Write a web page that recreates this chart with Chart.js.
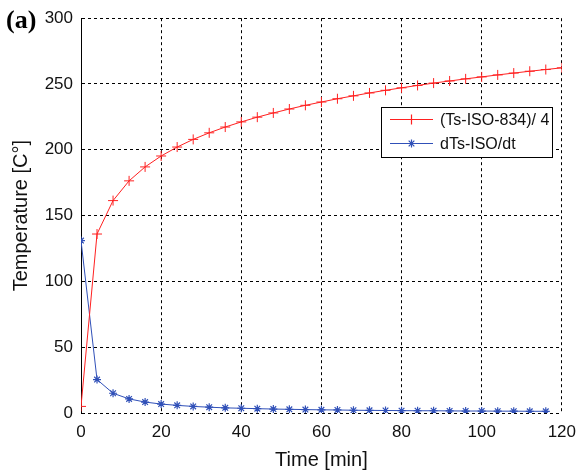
<!DOCTYPE html>
<html>
<head>
<meta charset="utf-8">
<script src="https://cdn.jsdelivr.net/npm/chart.js@4.4.1/dist/chart.umd.min.js"></script>
<style>
html,body{margin:0;padding:0;background:#fff;}
#wrap{position:relative;width:585px;height:476px;}
</style>
</head>
<body>
<div id="wrap"><canvas id="c" width="585" height="476"></canvas></div>
<script>
// Data
const redTimes = [0,4,8,12,16,20,24,28,32,36,40,44,48,52,56,60,64,68,72,76,80,84,88,92,96,100,104,108,112,116,120];
const redValues = [5.0,136.0,161.4,176.4,187.0,195.3,202.1,207.9,212.9,217.3,221.2,224.8,228.0,231.0,233.8,236.3,238.8,241.0,243.2,245.2,247.1,248.9,250.7,252.3,253.9,255.4,256.9,258.3,259.7,261.0,262.3];
const blueTimes = [0,4,8,12,16,20,24,28,32,36,40,44,48,52,56,60,64,68,72,76,80,84,88,92,96,100,104,108,112,116];
const blueValues = [131.0,25.4,15.0,10.7,8.3,6.8,5.8,5.0,4.4,3.9,3.6,3.3,3.0,2.8,2.6,2.4,2.3,2.1,2.0,1.9,1.8,1.7,1.7,1.6,1.5,1.5,1.4,1.4,1.3,1.3];
const seriesLabels = ['(Ts-ISO-834)/ 4', 'dTs-ISO/dt'];
const xTicks = [0,20,40,60,80,100,120];
const yTicks = [0,50,100,150,200,250,300];
const panelLabel = '(a)';
const xTitle = 'Time [min]';
const yTitle = 'Temperature [C°]';

const RED = '#ff2020';
const BLUE = '#3050b8';

const toXY = (xs, ys) => xs.map((x, i) => ({x: x, y: ys[i]}));

const FONT = '"Liberation Sans", Arial, Helvetica, sans-serif';

const panelPlugin = {
  id: 'panel',
  afterDraw(chart) {
    const ctx = chart.ctx;
    ctx.save();
    ctx.font = 'bold 26px "Liberation Serif", "Times New Roman", serif';
    ctx.fillStyle = '#000';
    ctx.textBaseline = 'alphabetic';
    ctx.textAlign = 'left';
    ctx.fillText(panelLabel, 6, 28);
    ctx.restore();
  }
};

const legendPlugin = {
  id: 'boxLegend',
  afterDraw(chart) {
    const ctx = chart.ctx;
    const x0 = 381, y0 = 107, w = 171, h = 50;
    ctx.save();
    ctx.fillStyle = '#fff';
    ctx.fillRect(x0, y0, w, h);
    ctx.strokeStyle = '#000';
    ctx.lineWidth = 1;
    ctx.setLineDash([]);
    ctx.strokeRect(x0 + 0.5, y0 + 0.5, w, h);
    const cols = [RED, BLUE];
    chart.data.datasets.forEach((ds, i) => {
      const yy = Math.round(y0 + 12 + i * 24) + 0.5;
      ctx.setLineDash([]);
      ctx.strokeStyle = cols[i];
      ctx.fillStyle = cols[i];
      ctx.lineWidth = 1;
      ctx.beginPath();
      ctx.moveTo(390, yy);
      ctx.lineTo(433, yy);
      ctx.stroke();
      ctx.strokeStyle = cols[i];
      ctx.lineWidth = 1.2;
      Chart.helpers.drawPoint(ctx, {
        pointStyle: ds.pointStyle, radius: ds.pointRadius, borderWidth: 1.2, rotation: 0
      }, 411.5, yy);
      ctx.fillStyle = '#111';
      ctx.font = '16px ' + FONT;
      ctx.textBaseline = 'middle';
      ctx.textAlign = 'left';
      ctx.fillText(ds.label, 440, yy + 1);
    });
    ctx.restore();
  }
};

new Chart(document.getElementById('c'), {
  type: 'line',
  data: {
    datasets: [
      {
        label: seriesLabels[0],
        data: toXY(redTimes, redValues),
        borderColor: RED,
        backgroundColor: RED,
        borderWidth: 1,
        pointStyle: 'cross',
        pointRadius: 5,
        pointBorderWidth: 1,
        pointBorderColor: RED,
        tension: 0,
        fill: false
      },
      {
        label: seriesLabels[1],
        data: toXY(blueTimes, blueValues),
        borderColor: BLUE,
        backgroundColor: BLUE,
        borderWidth: 1,
        pointStyle: 'star',
        pointRadius: 4,
        pointBorderWidth: 1.2,
        pointBorderColor: BLUE,
        tension: 0,
        fill: false
      }
    ]
  },
  options: {
    responsive: false,
    animation: false,
    devicePixelRatio: 1,
    layout: { padding: { left: 0, right: 23, top: 15, bottom: 0 } },
    plugins: {
      legend: { display: false },
      tooltip: { enabled: false }
    },
    scales: {
      x: {
        type: 'linear',
        min: 0, max: 120,
        afterBuildTicks(scale) { scale.ticks = xTicks.map(v => ({value: v})); },
        afterFit(scale) { scale.height = 63; },
        grid: {
          color: '#000',
          lineWidth: 1,
          drawTicks: false
        },
        border: { display: false, color: '#000', dash: [3, 3], width: 1 },
        ticks: {
          color: '#111',
          font: { family: FONT, size: 17 },
          padding: 9,
          maxRotation: 0
        },
        title: {
          display: true,
          text: xTitle,
          color: '#111',
          font: { family: FONT, size: 20 },
          padding: { top: 2, bottom: 4 }
        }
      },
      y: {
        type: 'linear',
        min: 0, max: 300,
        afterBuildTicks(scale) { scale.ticks = yTicks.map(v => ({value: v})); },
        afterFit(scale) { scale.width = 81; },
        grid: {
          color: '#000',
          lineWidth: 1,
          drawTicks: false
        },
        border: { display: true, color: '#000', dash: [3, 3], width: 1 },
        ticks: {
          color: '#111',
          font: { family: FONT, size: 17 },
          padding: 8
        },
        title: {
          display: true,
          text: yTitle,
          color: '#111',
          font: { family: FONT, size: 20 },
          padding: { top: 9, bottom: 0 }
        }
      }
    }
  },
  plugins: [panelPlugin, legendPlugin]
});
</script>
</body>
</html>
